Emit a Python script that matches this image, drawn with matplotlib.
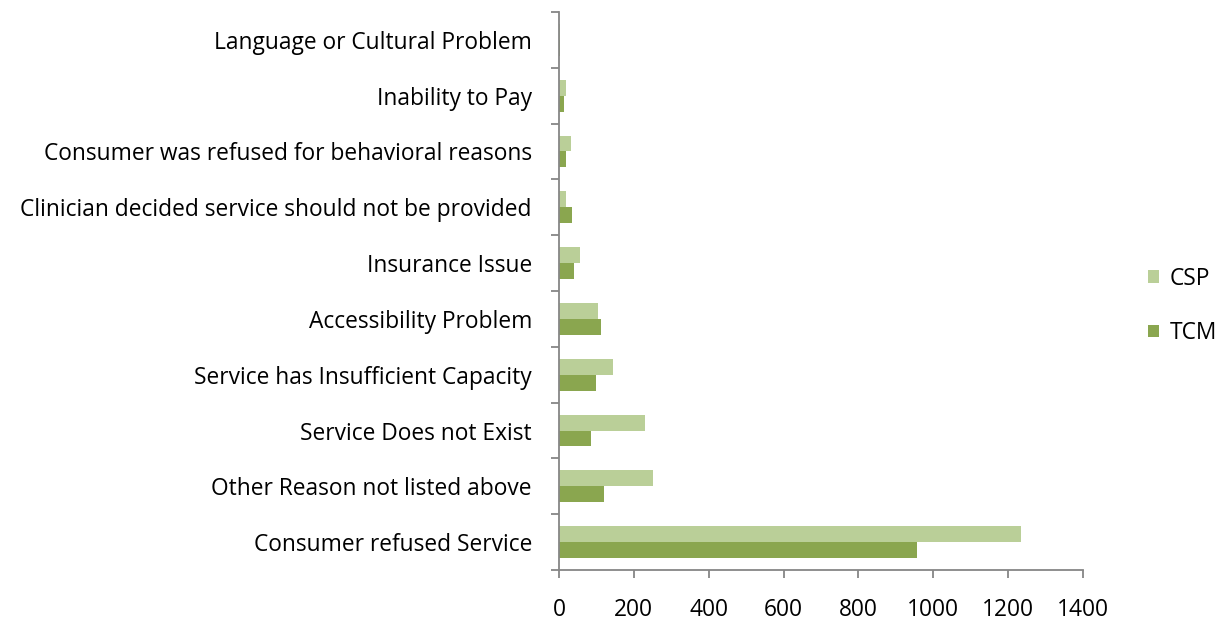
import matplotlib.pyplot as plt
import numpy as np

# Reasons listed bottom-to-top as they appear on the chart
reasons = [
    "Consumer refused Service",
    "Other Reason not listed above",
    "Service Does not Exist",
    "Service has Insufficient Capacity",
    "Accessibility Problem",
    "Insurance Issue",
    "Clinician decided service should not be provided",
    "Consumer was refused for behavioral reasons",
    "Inability to Pay",
    "Language or Cultural Problem",
]
csp = [1235, 252, 229, 143, 105, 56, 19, 32, 19, 4]
tcm = [957, 121, 86, 100, 111, 41, 36, 20, 14, 3]

x_ticks = [0, 200, 400, 600, 800, 1000, 1200, 1400]

CSP_COLOR = "#bacf98"
TCM_COLOR = "#8aa64f"
AXIS_GRAY = "#868686"
FS = 16.4

plt.rcParams["font.family"] = ["Open Sans", "DejaVu Sans"]

fig = plt.figure(figsize=(12.26, 6.21), dpi=100)
ax = fig.add_axes([559 / 1226, 1 - 570 / 621, 524 / 1226, 558 / 621])

y = np.arange(len(reasons))
h = 0.286
ax.barh(y + h / 2, csp, height=h, color=CSP_COLOR, label="CSP")
ax.barh(y - h / 2, tcm, height=h, color=TCM_COLOR, label="TCM")

ax.set_xlim(0, 1400)
ax.set_ylim(-0.5, len(reasons) - 0.5)
ax.set_xticks(x_ticks)
ax.set_xticklabels([str(v) for v in x_ticks])

# category labels centred on each group, ticks on the boundaries
ax.set_yticks(np.arange(-0.5, len(reasons), 1.0))
ax.set_yticklabels([])
ax.set_yticks(y, minor=True)
ax.set_yticklabels(reasons, minor=True)
ax.tick_params(axis="y", which="minor", length=0, pad=19.5, labelsize=FS)
ax.tick_params(axis="y", which="major", length=6, width=1.3, color=AXIS_GRAY, direction="out")
ax.tick_params(axis="x", length=6, width=1.3, color=AXIS_GRAY, direction="out", pad=14, labelsize=FS)

for side in ("top", "right"):
    ax.spines[side].set_visible(False)
for side in ("left", "bottom"):
    ax.spines[side].set_color(AXIS_GRAY)
    ax.spines[side].set_linewidth(1.3)

ax.legend(
    loc="center left",
    bbox_to_anchor=(1.085, 0.473),
    frameon=False,
    fontsize=FS,
    handlelength=0.5,
    handleheight=0.45,
    handletextpad=0.45,
    labelspacing=1.35,
)

fig.savefig("out.png", dpi=100)
